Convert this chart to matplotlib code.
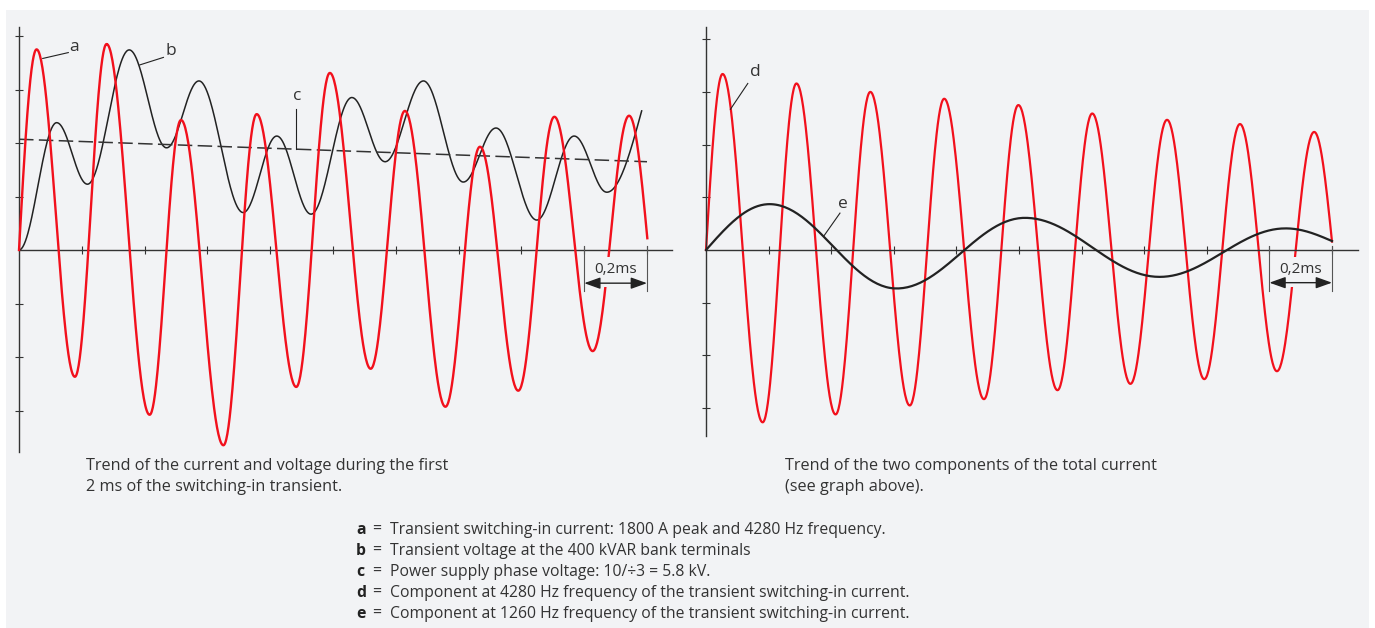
import matplotlib.pyplot as plt
import numpy as np
from matplotlib.patches import Rectangle, FancyArrowPatch

# values: time in ms, amplitude in tick units
# left graph, curve a (transient current), extrema
a_t = [0.0, 0.056, 0.178, 0.279, 0.416, 0.516, 0.651, 0.757, 0.883, 0.990,
       1.120, 1.229, 1.358, 1.468, 1.590, 1.705, 1.827, 1.943, 2.001]
a_y = [0.0, 3.75, -2.37, 3.85, -3.08, 2.43, -3.65, 2.54, -2.56, 3.31,
       -2.22, 2.60, -2.93, 1.93, -2.63, 2.49, -1.89, 2.51, 0.22]
# curve b (transient voltage), extrema
b_t = [0.0, 0.120, 0.218, 0.351, 0.470, 0.573, 0.714, 0.821, 0.930, 1.060,
       1.166, 1.288, 1.415, 1.519, 1.649, 1.768, 1.872, 1.983]
b_y = [0.0, 2.38, 1.23, 3.74, 1.91, 3.16, 0.70, 2.13, 0.67, 2.85,
       1.65, 3.16, 1.27, 2.28, 0.56, 2.13, 1.08, 2.60]
# curve c (supply phase voltage)
c_t = [0.0, 2.0]
c_y = [2.07, 1.65]
# right graph, curve d (4280 Hz component), extrema
d_t = [0.0, 0.053, 0.181, 0.289, 0.414, 0.525, 0.651, 0.761, 0.888, 0.998,
       1.123, 1.234, 1.356, 1.473, 1.592, 1.706, 1.824, 1.943, 2.0]
d_y = [0.0, 3.34, -3.27, 3.16, -3.12, 3.00, -2.95, 2.87, -2.83, 2.75,
       -2.66, 2.59, -2.54, 2.47, -2.45, 2.39, -2.30, 2.24, 0.16]
# curve e (1260 Hz component), extrema
e_t = [0.0, 0.203, 0.609, 1.019, 1.449, 1.852, 2.0]
e_y = [0.0, 0.87, -0.73, 0.61, -0.51, 0.41, 0.17]

x_ticks = [0.2, 0.4, 0.6, 0.8, 1.0, 1.2, 1.4, 1.6, 1.8, 2.0]
y_ticks = [-3, -2, -1, 1, 2, 3, 4]

caption_left = ['Trend of the current and voltage during the first',
                '2 ms of the switching-in transient.']
caption_right = ['Trend of the two components of the total current',
                 '(see graph above).']
key_letters = ['a', 'b', 'c', 'd', 'e']
key_texts = ['Transient switching-in current: 1800 A peak and 4280 Hz frequency.',
             'Transient voltage at the 400 kVAR bank terminals',
             'Power supply phase voltage: 10/\u00f73 = 5.8 kV.',
             'Component at 4280 Hz frequency of the transient switching-in current.',
             'Component at 1260 Hz frequency of the transient switching-in current.']

RED = '#f2101c'
DARK = '#222222'
BG = '#f2f3f5'
plt.rcParams['font.family'] = ['Open Sans', 'DejaVu Sans']


def wave(ts, ys, start_quarter=True, end_quarter=True, n=60):
    # smooth curve through extrema: half-cosine arcs between them
    xs, vs = [], []
    for i in range(len(ts) - 1):
        s = np.linspace(0, 1, n)
        y0, y1 = ys[i], ys[i + 1]
        if i == 0 and start_quarter:
            y = y0 + (y1 - y0) * np.sin(np.pi / 2 * s)
        elif i == len(ts) - 2 and end_quarter:
            y = y1 + (y0 - y1) * np.cos(np.pi / 2 * s)
        else:
            y = y0 + (y1 - y0) * (1 - np.cos(np.pi * s)) / 2
        xs.append(ts[i] + (ts[i + 1] - ts[i]) * s)
        vs.append(y)
    return np.concatenate(xs), np.concatenate(vs)


def setup(ax, xmax, ylo, yhi):
    ax.set_facecolor('none')
    ax.set_xlim(0, xmax)
    ax.set_ylim(ylo, yhi)
    ax.spines['top'].set_visible(False)
    ax.spines['right'].set_visible(False)
    ax.spines['bottom'].set_position(('data', 0))
    ax.spines['left'].set_position(('data', 0))
    for s in ['bottom', 'left']:
        ax.spines[s].set_color('#333333')
        ax.spines[s].set_linewidth(1.0)
    ax.set_xticks(x_ticks)
    ax.set_yticks(y_ticks)
    ax.tick_params(direction='inout', length=6, width=0.8, color='#333333',
                   labelbottom=False, labelleft=False)


def scale_bar(ax, ylab):
    # 0,2ms marker at the end of the time axis
    ax.add_patch(Rectangle((1.81, -0.70), 0.18, 0.56, facecolor=BG,
                           edgecolor='none', zorder=4))
    for x in [1.8, 2.0]:
        ax.plot([x, x], [0.07, -0.77], color='#555555', lw=0.8, zorder=5,
                clip_on=False)
    ax.add_patch(FancyArrowPatch((1.8, -0.62), (2.0, -0.62),
                                 arrowstyle='<|-|>,head_length=0.7,head_width=0.25',
                                 mutation_scale=14, color=DARK, lw=1.0,
                                 shrinkA=0, shrinkB=0, zorder=6))
    ax.text(1.9, ylab, '0,2ms', ha='center', va='center', fontsize=11,
            color='#333333', zorder=6)


fig = plt.figure(figsize=(13.75, 6.28), dpi=100)
fig.patch.set_facecolor('white')
fig.add_artist(Rectangle((6 / 1375, 0), 1363 / 1375, 618 / 628,
                         transform=fig.transFigure, facecolor=BG,
                         edgecolor='none', zorder=0))

W, H = 1375, 628
ax1 = fig.add_axes([19 / W, (H - 452) / H, 653 / W, 425 / H])
ax2 = fig.add_axes([706 / W, (H - 436) / H, 652 / W, 409.3 / H])
setup(ax1, 653 / 314, -202 / 53.5, 223 / 53.5)
setup(ax2, 652 / 313, -186 / 52.7, 223.3 / 52.7)

# left graph
x, y = wave(b_t, b_y, start_quarter=False)
ax1.plot(x, y, color=DARK, lw=1.1, zorder=2, clip_on=False)
ax1.plot(c_t, c_y, color='#333333', lw=1.1, ls=(0, (9.5, 3.5)), zorder=2)
x, y = wave(a_t, a_y)
ax1.plot(x, y, color=RED, lw=1.7, zorder=3, clip_on=False)
scale_bar(ax1, -0.37)

ax1.plot([0.0755, 0.157], [3.58, 3.69], color=DARK, lw=0.8)
ax1.text(0.175, 3.79, key_letters[0], ha='center', va='center', fontsize=12.5, color='#333333')
ax1.plot([0.385, 0.46], [3.46, 3.60], color=DARK, lw=0.8)
ax1.text(0.484, 3.72, key_letters[1], ha='center', va='center', fontsize=12.5, color='#333333')
ax1.plot([0.882, 0.882], [2.63, 1.89], color=DARK, lw=0.8)
ax1.text(0.886, 2.87, key_letters[2], ha='center', va='center', fontsize=12.5, color='#333333')

# right graph
x, y = wave(d_t, d_y)
ax2.plot(x, y, color=RED, lw=1.6, zorder=2, clip_on=False)
x, y = wave(e_t, e_y)
ax2.plot(x, y, color=DARK, lw=1.6, zorder=3, clip_on=False)
scale_bar(ax2, -0.37)

ax2.plot([0.1335, 0.078], [3.16, 2.67], color=DARK, lw=0.8)
ax2.text(0.158, 3.38, key_letters[3], ha='center', va='center', fontsize=12.5, color='#333333')
ax2.plot([0.428, 0.377], [0.70, 0.27], color=DARK, lw=0.8)
ax2.text(0.437, 0.88, key_letters[4], ha='center', va='center', fontsize=12.5, color='#333333')

# captions
for i, line in enumerate(caption_left):
    fig.text(86 / W, 1 - (470 + 21 * i) / H, line, ha='left', va='baseline',
             fontsize=11.7, color='#333333')
for i, line in enumerate(caption_right):
    fig.text(785 / W, 1 - (470 + 21 * i) / H, line, ha='left', va='baseline',
             fontsize=11.7, color='#333333')

# key
for i, (k, t) in enumerate(zip(key_letters, key_texts)):
    yy = 1 - (534 + 21 * i) / H
    fig.text(356 / W, yy, k, ha='left', va='baseline', fontsize=11.3,
             fontweight='bold', color='#222222')
    fig.text(372 / W, yy, '=', ha='left', va='baseline', fontsize=11.3, color='#333333')
    fig.text(390 / W, yy, t, ha='left', va='baseline', fontsize=11.3, color='#333333')

fig.savefig('out.png', dpi=100, facecolor=fig.get_facecolor())
